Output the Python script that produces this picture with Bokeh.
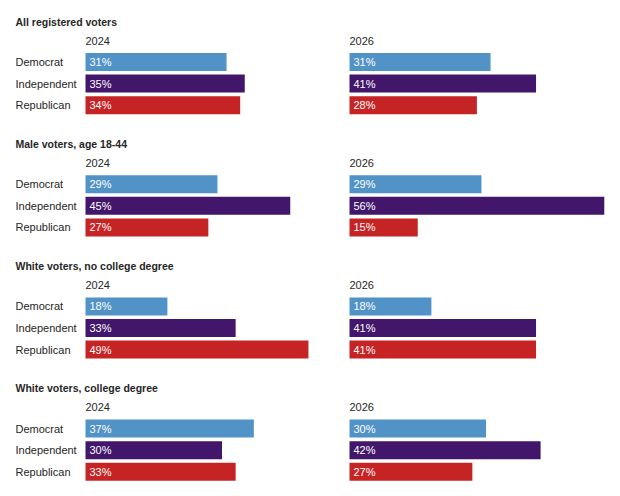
from bokeh.plotting import figure
from bokeh.models import Range1d, ColumnDataSource
from bokeh.core.properties import value
from bokeh.embed import file_html
from bokeh.resources import INLINE

# ---- data ----
groups = ["All registered voters", "Male voters, age 18-44",
          "White voters, no college degree", "White voters, college degree"]
parties = ["Democrat", "Independent", "Republican"]
years = ["2024", "2026"]
values_2024 = [[31, 35, 34], [29, 45, 27], [18, 33, 49], [37, 30, 33]]
values_2026 = [[31, 41, 28], [29, 56, 15], [18, 41, 41], [30, 42, 27]]
party_colors = ["#5193c6", "#42166a", "#c62424"]

# ---- layout parameters ----
W, H = 620, 496
PX_PER_UNIT = 4.55          # pixels per percentage point
LEFT_PX = 85                # where 2024 bars start
COL2_PX = 349               # where 2026 bars start
LABEL_PX = 15
first_bar = 61.5
group_step = 122.2
bar_step = 21.6
bar_h = 18

x0 = -LEFT_PX / PX_PER_UNIT
x1 = (W - LEFT_PX) / PX_PER_UNIT
col_offsets = [0.0, (COL2_PX - LEFT_PX) / PX_PER_UNIT]
label_x = (LABEL_PX - LEFT_PX) / PX_PER_UNIT
pad = 4 / PX_PER_UNIT

p = figure(width=W, height=H, output_backend="svg", toolbar_location=None,
           x_range=Range1d(x0, x1), y_range=Range1d(H, 0),
           min_border=0, min_border_left=0, min_border_right=0,
           min_border_top=0, min_border_bottom=0)
p.axis.visible = False
p.grid.visible = False
p.outline_line_color = None
p.background_fill_color = "white"
p.border_fill_color = "white"

font = value("Liberation Sans")

bar_y, bar_l, bar_r, bar_c, lab_x, lab_t = [], [], [], [], [], []
party_y, party_t = [], []
title_y, title_t = [], []
year_x, year_y, year_t = [], [], []

for gi, g in enumerate(groups):
    base = first_bar + gi * group_step
    title_y.append(base - 40.5)
    title_t.append(g)
    for ci, vals in enumerate([values_2024[gi], values_2026[gi]]):
        year_x.append(col_offsets[ci])
        year_y.append(base - 21.5)
        year_t.append(years[ci])
        for pi, v in enumerate(vals):
            y = base + pi * bar_step
            bar_y.append(y)
            bar_l.append(col_offsets[ci])
            bar_r.append(col_offsets[ci] + v)
            bar_c.append(party_colors[pi])
            lab_x.append(col_offsets[ci] + pad)
            lab_t.append(f"{v}%")
    for pi, party in enumerate(parties):
        party_y.append(base + pi * bar_step)
        party_t.append(party)

bars = ColumnDataSource(dict(y=bar_y, left=bar_l, right=bar_r, color=bar_c,
                             lx=lab_x, lt=lab_t))
p.hbar(y="y", left="left", right="right", height=bar_h, color="color",
       line_color=None, source=bars)
p.text(x="lx", y="y", text="lt", source=bars, text_color="white",
       text_font=font, text_font_size="11px", text_baseline="middle",
       text_align="left")

p.text(x=[label_x] * len(party_y), y=party_y, text=party_t,
       text_color="#262626", text_font=font, text_font_size="11px",
       text_baseline="middle", text_align="left")
p.text(x=[label_x] * len(title_y), y=title_y, text=title_t,
       text_color="#262626", text_font=font, text_font_size="10.5px",
       text_font_style="bold", text_baseline="middle", text_align="left")
p.text(x=year_x, y=year_y, text=year_t,
       text_color="#262626", text_font=font, text_font_size="11px",
       text_baseline="middle", text_align="left")

open("out.html", "w").write(file_html(p, INLINE))
